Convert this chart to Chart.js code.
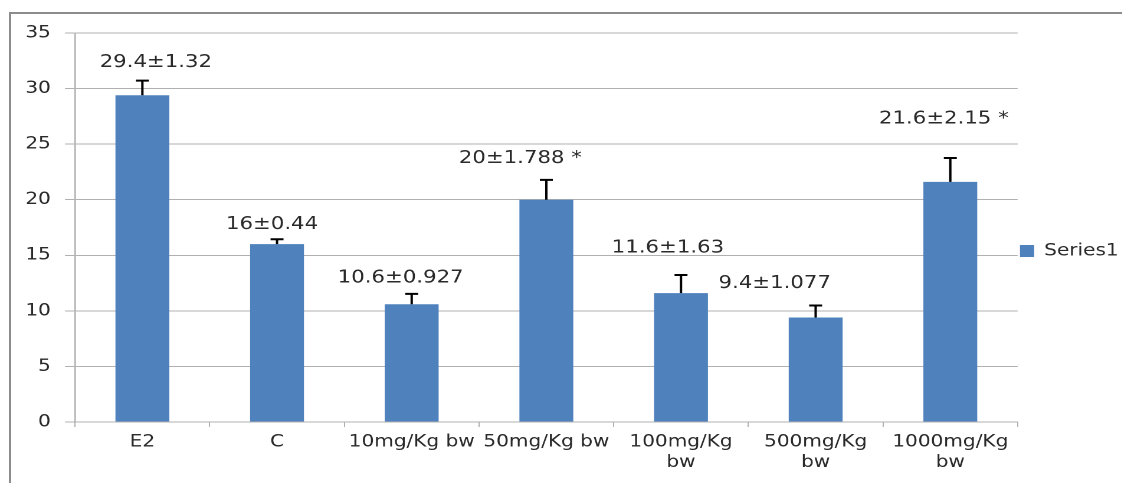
<!DOCTYPE html>
<html>
<head>
<meta charset="utf-8">
<script src="https://cdn.jsdelivr.net/npm/chart.js@4/dist/chart.umd.min.js"></script>
<style>
  html, body { margin: 0; padding: 0; background: #ffffff; overflow: hidden; width: 1122px; height: 483px; }
  #frame { position: absolute; left: 9px; top: 12px; width: 1200px; height: 600px; border-left: 2px solid #8c8c8c; border-top: 2px solid #8c8c8c; box-sizing: border-box; }
  #wrap { position: absolute; left: 0; top: 0; width: 958px; height: 483px; transform: scaleX(1.18); transform-origin: 0 0; }
  #c { display: block; }
</style>
</head>
<body>
<div id="frame"></div>
<div id="wrap"><canvas id="c"></canvas></div>
<script>
// ---- data ----
const categories = ["E2", "C", "10mg/Kg bw", "50mg/Kg bw", ["100mg/Kg", "bw"], ["500mg/Kg", "bw"], ["1000mg/Kg", "bw"]];
const means = [29.4, 16, 10.6, 20, 11.6, 9.4, 21.6];
const errors = [1.32, 0.44, 0.927, 1.788, 1.63, 1.077, 2.15];
const labelTexts = ["29.4±1.32", "16±0.44", "10.6±0.927", "20±1.788 *", "11.6±1.63", "9.4±1.077", "21.6±2.15 *"];
const seriesName = "Series1";
const yMin = 0, yMax = 35, yStep = 5;

const FONT = { family: "'DejaVu Sans', Verdana, sans-serif", size: 17 };
const LABEL_FONT_SIZE = 18;
const TEXT = "#2a2a2a";
const GRID = "#b0b0b0";
const BAR = "#4F81BD";

const errorBarPlugin = {
  id: "errorBars",
  afterDatasetsDraw(chart, args, opts) {
    const ctx = chart.ctx;
    const y = chart.scales.y;
    const meta = chart.getDatasetMeta(0);
    ctx.save();
    ctx.strokeStyle = "#000000";
    ctx.lineWidth = 2;
    meta.data.forEach((bar, i) => {
      const x = bar.x;
      const y0 = y.getPixelForValue(means[i]);
      const y1 = y.getPixelForValue(means[i] + errors[i]);
      ctx.beginPath();
      ctx.moveTo(x, y0);
      ctx.lineTo(x, y1);
      ctx.moveTo(x - opts.capHalf, y1);
      ctx.lineTo(x + opts.capHalf, y1);
      ctx.stroke();
    });
    ctx.restore();
  }
};

const valueLabelPlugin = {
  id: "valueLabels",
  afterDraw(chart, args, opts) {
    const ctx = chart.ctx;
    const xs = chart.scales.x, ys = chart.scales.y;
    ctx.save();
    ctx.font = LABEL_FONT_SIZE + "px " + FONT.family;
    ctx.fillStyle = TEXT;
    ctx.textAlign = "center";
    ctx.textBaseline = "middle";
    labelTexts.forEach((t, i) => {
      const x = xs.getPixelForValue(i + opts.dx[i]);
      const yy = ys.getPixelForValue(opts.atValue[i]) + opts.yShift;
      ctx.fillText(t, x, yy);
    });
    ctx.restore();
  }
};

new Chart(document.getElementById("c"), {
  type: "bar",
  data: {
    labels: categories,
    datasets: [{
      label: seriesName,
      data: means,
      backgroundColor: BAR,
      borderWidth: 0,
      barPercentage: 0.4,
      categoryPercentage: 1.0
    }]
  },
  options: {
    responsive: true,
    maintainAspectRatio: false,
    animation: false,
    devicePixelRatio: 2,
    layout: { padding: { left: 0, right: 0, top: 33, bottom: 14 } },
    plugins: {
      tooltip: { enabled: false },
      legend: {
        position: "right",
        labels: {
          font: FONT, color: TEXT, boxWidth: 12, boxHeight: 12, padding: 2
        }
      },
      errorBars: { capHalf: 5.5 },
      valueLabels: {
        dx: [0.10, -0.037, -0.082, -0.193, -0.097, -0.304, -0.048],
        atValue: [32.52, 17.97, 13.15, 23.9, 15.86, 12.66, 27.48],
        yShift: 2
      }
    },
    scales: {
      x: {
        afterFit(s) { s.height = 47; },
        grid: { drawOnChartArea: false, tickLength: 5, color: GRID, lineWidth: 1 },
        border: { color: GRID, width: 1 },
        ticks: { font: FONT, color: TEXT, padding: 5, maxRotation: 0, minRotation: 0, autoSkip: false }
      },
      y: {
        min: yMin, max: yMax,
        afterFit(s) { s.width = 63.6; },
        grid: { color: GRID, lineWidth: 1, tickLength: 8.5 },
        border: { color: GRID, width: 1.3 },
        ticks: { stepSize: yStep, font: FONT, color: TEXT, padding: 12 }
      }
    }
  },
  plugins: [errorBarPlugin, valueLabelPlugin]
});
</script>
</body>
</html>
